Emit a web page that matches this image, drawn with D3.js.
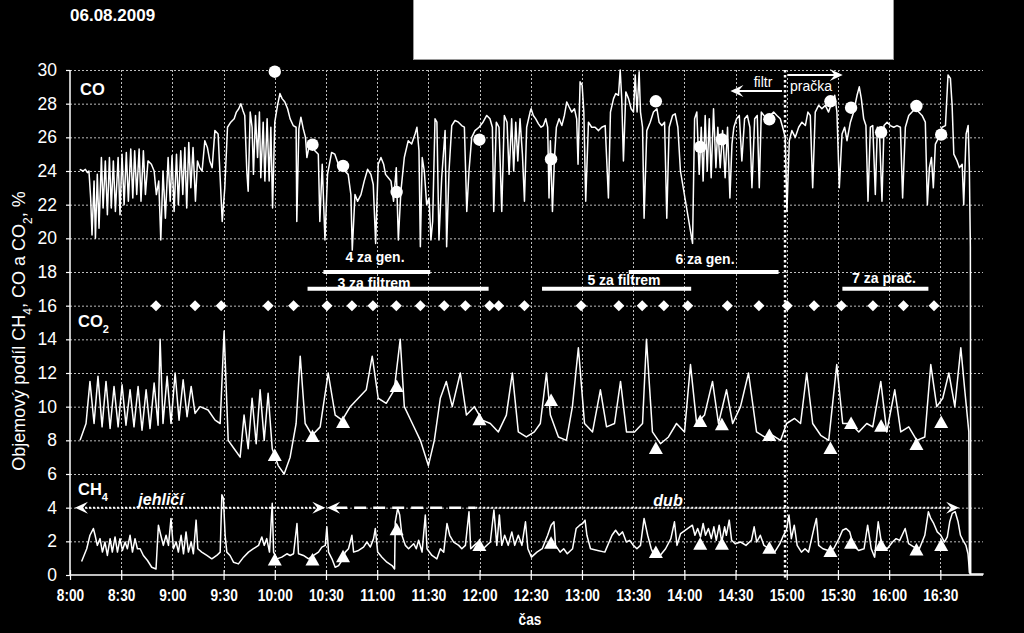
<!DOCTYPE html>
<html><head><meta charset="utf-8">
<script src="https://cdn.jsdelivr.net/npm/d3@7/dist/d3.min.js"></script>
<style>
body{margin:0;background:#000;}
svg{display:block;background:#000;}
text{fill:#fff;}
</style>
</head><body>
<svg id="chart" width="1024" height="633"></svg>
<script>
// ---------- data (time = minutes after 8:00, value = %) ----------
const dateLabel = "06.08.2009";
const timeTicks = ["8:00","8:30","9:00","9:30","10:00","10:30","11:00","11:30","12:00","12:30","13:00","13:30","14:00","14:30","15:00","15:30","16:00","16:30"];
const yTicks = [0,2,4,6,8,10,12,14,16,18,20,22,24,26,28,30];

const coSeries = [[5.7,24.1],[7.6,24.0],[9.0,24.1],[10.2,23.9],[11.1,24.0],[12.1,22.4],[12.9,20.2],[14.1,23.4],[14.9,20.0],[16.0,23.8],[17.0,20.6],[18.4,24.8],[19.4,21.8],[20.7,24.6],[21.9,21.4],[23.1,24.8],[24.2,21.8],[25.4,24.6],[26.6,21.6],[28.2,24.8],[29.3,21.4],[30.5,25.0],[31.7,22.0],[33.0,25.1],[34.2,22.2],[35.6,25.3],[36.8,22.4],[37.9,25.2],[39.1,22.6],[40.5,25.3],[41.6,22.2],[43.0,25.2],[44.2,22.6],[45.7,24.6],[47.7,24.4],[49.3,24.0],[50.6,22.6],[52.0,23.4],[53.2,19.9],[54.5,24.0],[55.9,21.2],[57.5,24.8],[58.7,22.2],[59.8,24.9],[61.0,21.6],[62.4,25.0],[63.5,22.0],[64.9,25.2],[66.1,22.6],[67.3,25.4],[68.4,21.8],[69.6,25.7],[70.8,23.0],[72.1,25.4],[73.5,22.2],[74.7,24.6],[76.0,24.2],[77.4,24.0],[79.0,25.8],[80.5,25.4],[81.9,24.6],[83.3,24.2],[84.9,26.4],[86.8,26.2],[87.8,24.0],[89.2,21.0],[90.7,23.0],[92.3,26.6],[94.2,26.9],[96.2,27.1],[97.5,27.5],[98.9,27.7],[100.1,28.0],[101.3,27.6],[102.4,27.3],[103.6,24.0],[104.4,22.8],[105.6,27.5],[106.7,26.6],[107.5,23.8],[108.7,27.3],[109.9,24.8],[111.0,27.5],[111.8,23.6],[113.2,26.9],[114.2,23.4],[115.5,27.1],[116.7,23.4],[117.7,26.6],[118.7,21.8],[120.0,26.9],[121.6,27.9],[123.0,28.6],[124.3,28.3],[125.9,28.1],[127.5,27.7],[129.0,27.1],[130.8,26.7],[132.5,26.6],[132.9,21.0],[134.1,26.5],[135.3,27.2],[136.7,26.5],[138.0,26.0],[138.8,24.8],[140.0,25.4],[141.5,25.6],[143.5,25.2],[145.5,25.0],[146.4,21.0],[147.8,24.4],[149.4,19.9],[150.9,23.8],[153.3,25.1],[155.2,25.0],[157.2,24.4],[159.1,24.2],[161.1,24.0],[163.0,23.8],[164.6,22.6],[165.4,19.3],[167.0,22.6],[168.5,22.2],[170.5,22.6],[172.4,23.4],[174.4,24.1],[176.3,23.8],[177.7,23.2],[179.1,19.7],[180.6,24.4],[182.2,24.8],[183.8,24.4],[184.9,23.8],[186.5,23.6],[188.1,23.4],[189.6,22.2],[191.2,24.2],[192.4,19.9],[193.9,22.8],[195.9,24.8],[198.2,25.8],[200.2,25.6],[202.2,26.2],[203.3,26.6],[204.5,25.2],[205.3,19.5],[206.4,24.8],[207.6,24.0],[209.0,22.0],[210.4,22.4],[211.5,19.9],[212.5,21.0],[213.9,27.1],[215.0,26.9],[216.2,19.9],[217.8,23.6],[219.8,26.4],[220.7,19.5],[222.1,24.0],[223.7,26.7],[225.6,27.0],[227.6,26.9],[229.5,26.7],[231.1,26.6],[232.5,21.6],[233.8,24.0],[235.4,26.0],[237.3,26.4],[239.7,26.6],[242.0,26.9],[244.2,27.3],[246.1,27.1],[247.5,26.6],[248.3,21.6],[249.8,26.9],[251.4,26.6],[253.0,21.6],[254.5,27.3],[256.1,26.9],[257.3,23.8],[258.8,27.1],[260.0,24.0],[261.2,26.9],[262.4,24.6],[263.7,27.1],[265.1,25.0],[266.3,22.2],[267.6,26.6],[269.6,27.5],[270.2,27.7],[271.5,27.3],[272.9,27.1],[274.5,26.8],[276.0,26.6],[277.4,26.7],[278.8,27.1],[279.9,26.6],[280.7,22.4],[281.5,25.8],[282.7,21.6],[283.9,24.8],[285.0,26.6],[286.6,27.1],[288.2,26.7],[289.7,27.3],[291.1,28.1],[292.5,27.8],[294.0,27.5],[295.6,27.7],[296.9,27.1],[297.7,24.4],[298.9,29.3],[300.1,29.1],[301.1,27.5],[302.2,22.2],[303.8,26.9],[305.7,26.6],[307.7,26.6],[309.7,26.4],[311.6,26.6],[313.6,26.7],[315.5,22.4],[316.7,27.5],[318.5,28.3],[319.8,28.6],[321.4,28.5],[322.4,30.0],[323.3,28.3],[324.3,24.6],[325.7,28.7],[327.3,28.3],[328.8,27.7],[330.2,27.5],[331.2,29.7],[332.3,27.5],[333.5,29.9],[334.3,27.5],[335.5,26.6],[336.4,21.2],[338.0,26.4],[340.0,26.9],[341.9,27.5],[343.9,27.7],[345.2,26.9],[346.8,26.7],[348.4,26.9],[349.7,21.2],[351.1,26.6],[353.1,27.3],[354.6,27.4],[356.2,26.6],[357.7,24.0],[364.8,19.7],[366.0,27.1],[367.3,27.5],[368.7,23.8],[369.9,26.6],[371.0,23.4],[372.2,27.3],[373.4,24.0],[374.6,27.1],[375.7,23.6],[377.1,27.7],[378.5,24.2],[379.6,26.6],[381.0,24.2],[382.4,26.4],[383.9,23.6],[385.3,26.6],[386.7,22.4],[387.9,25.6],[389.0,26.6],[390.6,27.1],[392.2,27.3],[393.7,24.6],[395.3,27.1],[396.9,27.3],[398.4,26.6],[399.6,23.0],[401.2,27.1],[402.7,27.3],[403.9,23.0],[405.1,27.5],[406.6,27.3],[408.4,27.1],[410.3,27.3],[412.3,27.5],[414.2,27.3],[416.2,27.1],[417.6,26.6],[419.1,26.0],[420.1,21.6],[421.5,25.8],[423.0,26.4],[425.0,26.0],[427.0,26.6],[428.9,26.9],[430.9,26.7],[432.4,27.5],[433.8,27.3],[435.2,23.0],[436.7,27.5],[438.7,27.9],[440.6,27.7],[442.6,27.9],[444.5,27.5],[446.5,28.1],[448.1,28.5],[449.4,27.5],[450.8,23.0],[452.4,26.2],[453.9,26.6],[455.3,25.8],[457.3,26.9],[459.2,27.5],[461.2,28.5],[462.5,29.0],[463.7,28.3],[465.1,27.1],[466.4,26.7],[467.6,22.2],[469.0,26.6],[470.4,26.7],[471.9,22.6],[473.1,26.6],[474.3,26.4],[475.8,22.2],[477.0,26.7],[478.8,26.9],[480.7,26.7],[482.7,26.6],[484.6,26.7],[486.6,26.6],[487.9,22.4],[489.5,26.6],[491.5,27.3],[493.4,27.5],[495.4,27.7],[497.3,27.5],[499.3,27.3],[501.2,26.9],[502.4,22.0],[503.6,24.2],[504.8,24.8],[505.9,23.0],[507.1,25.6],[509.1,26.0],[511.0,26.6],[513.0,26.7],[514.5,29.7],[515.9,29.5],[516.9,27.9],[517.9,25.0],[519.8,24.6],[521.2,24.2],[522.8,24.4],[523.7,22.0],[525.1,26.2],[526.3,26.7],[527.0,24.2],[527.6,19.5],[527.8,0.05]];

const co2Series = [[5.9,8.0],[9.4,9.0],[11.7,11.5],[14.1,9.0],[16.4,11.8],[18.8,8.8],[21.1,11.5],[23.5,8.7],[25.8,11.2],[28.2,8.8],[30.5,11.3],[32.8,8.9],[35.2,11.0],[37.5,8.8],[39.9,11.2],[42.2,8.6],[44.6,11.0],[46.9,8.7],[49.3,11.4],[51.6,8.9],[52.8,14.0],[54.5,9.0],[56.9,11.8],[59.2,9.0],[61.6,12.0],[63.9,9.2],[66.3,11.6],[68.6,9.4],[71.0,11.2],[73.3,9.6],[76.2,10.0],[80.9,9.8],[85.0,9.2],[88.0,9.0],[90.3,14.5],[92.7,8.0],[96.2,7.5],[99.7,7.0],[102.0,9.5],[104.4,7.5],[106.7,10.5],[109.1,7.8],[111.4,11.0],[113.8,8.0],[116.1,10.8],[118.5,7.5],[122.0,6.5],[125.5,6.0],[129.0,7.0],[132.5,9.0],[134.9,13.0],[137.8,9.0],[141.9,8.3],[146.6,8.8],[151.3,12.0],[155.4,9.5],[159.5,9.2],[164.2,10.0],[168.9,10.5],[173.6,11.0],[177.1,13.0],[180.6,10.5],[185.3,10.2],[190.0,11.0],[193.5,14.0],[195.9,10.0],[200.6,9.0],[205.3,8.0],[210.0,6.5],[213.5,8.0],[217.0,10.5],[220.5,11.5],[224.0,10.0],[228.7,12.0],[232.3,9.5],[236.9,10.0],[241.6,9.2],[246.3,9.0],[251.0,8.5],[255.7,9.5],[259.2,12.0],[262.7,8.5],[267.4,8.2],[272.1,8.5],[275.6,9.0],[279.2,12.0],[281.5,9.5],[286.2,8.2],[290.9,8.0],[294.4,10.0],[297.9,13.5],[301.5,9.0],[306.2,8.5],[310.8,11.0],[314.4,8.8],[319.1,9.0],[322.6,11.5],[326.1,8.5],[330.8,8.5],[335.5,9.0],[337.8,14.0],[341.3,8.5],[346.0,7.8],[350.7,8.2],[355.4,9.0],[360.1,8.5],[363.6,12.5],[367.2,9.0],[371.8,9.5],[376.5,11.5],[380.0,9.0],[384.7,11.0],[388.3,9.0],[392.9,10.0],[397.6,12.0],[402.3,8.5],[407.0,8.2],[411.7,8.3],[416.4,8.0],[419.9,9.0],[424.6,9.3],[428.1,9.0],[431.7,12.0],[435.2,9.0],[439.9,8.3],[444.6,8.0],[449.3,12.5],[452.8,9.0],[457.5,9.0],[462.2,8.5],[466.9,9.0],[470.4,8.8],[475.1,11.5],[478.6,8.5],[483.3,11.0],[486.8,8.5],[491.5,8.8],[496.2,8.0],[500.9,8.2],[504.4,12.5],[507.9,10.0],[511.4,10.5],[515.0,12.0],[518.5,10.0],[522.0,13.5],[524.3,11.0],[526.7,8.5],[527.1,0.1]];

const ch4Series = [[6.8,0.8],[9.8,1.56],[11.7,2.36],[13.7,2.76],[14.7,2.36],[16.0,1.76],[17.6,2.16],[19.0,1.36],[20.5,1.96],[21.9,1.16],[23.5,2.16],[24.8,1.36],[26.4,2.26],[27.8,1.36],[29.3,2.16],[30.7,1.46],[32.3,1.96],[33.6,1.56],[35.2,2.36],[36.6,1.36],[38.1,2.16],[39.5,1.56],[41.1,1.56],[43.0,1.16],[45.4,0.86],[47.9,0.46],[50.4,0.36],[51.8,2.96],[53.2,2.36],[54.7,1.76],[56.3,2.36],[57.7,1.76],[59.2,3.36],[60.6,1.56],[62.2,1.96],[63.5,1.36],[65.1,2.36],[66.5,1.26],[68.0,2.56],[69.4,1.36],[71.0,1.96],[72.3,1.26],[73.9,3.26],[74.9,1.56],[77.2,1.36],[80.2,1.16],[83.1,0.96],[86.0,1.16],[88.0,1.36],[89.0,4.76],[89.9,4.56],[90.9,2.36],[91.9,1.36],[93.8,1.16],[95.8,0.76],[98.7,0.66],[101.7,1.06],[104.6,1.36],[107.5,1.56],[110.5,1.76],[112.4,2.26],[113.8,1.76],[115.3,2.16],[116.9,1.36],[118.5,4.26],[119.3,1.36],[121.2,0.96],[124.1,1.06],[127.1,1.26],[129.0,1.16],[131.0,1.26],[133.0,3.06],[133.9,1.26],[136.8,1.16],[139.8,0.96],[142.7,1.16],[145.6,1.36],[147.6,1.66],[149.6,1.76],[150.5,2.86],[151.5,1.36],[153.5,0.96],[155.4,0.46],[157.4,0.56],[159.3,0.86],[161.3,1.36],[163.2,1.56],[165.2,2.36],[166.2,1.36],[169.1,1.46],[172.0,1.66],[174.0,1.96],[176.0,1.66],[177.9,2.16],[178.9,2.76],[180.3,1.36],[182.8,1.06],[185.7,0.76],[188.7,0.56],[190.2,0.36],[190.6,3.16],[192.0,3.96],[193.2,3.56],[194.5,2.36],[196.5,1.76],[198.4,1.56],[201.4,1.86],[202.9,1.56],[204.3,2.06],[206.3,1.36],[208.2,3.56],[209.2,1.56],[212.1,1.16],[215.0,0.96],[217.0,1.56],[219.0,1.36],[220.9,3.06],[222.5,2.36],[224.8,1.96],[227.8,1.76],[229.6,1.56],[231.7,1.76],[233.8,3.76],[234.8,1.56],[236.9,1.76],[239.0,1.96],[241.1,1.56],[243.2,1.66],[246.3,1.96],[248.4,3.86],[250.1,1.76],[251.6,3.56],[253.0,1.76],[254.7,2.36],[256.8,1.76],[258.9,2.56],[260.6,1.76],[262.7,2.36],[264.8,1.76],[266.9,3.16],[268.3,1.56],[270.4,1.06],[273.6,1.36],[276.7,1.56],[279.9,2.36],[281.9,2.96],[283.6,3.16],[284.5,1.76],[287.2,1.36],[289.3,1.56],[291.4,1.26],[294.5,1.56],[296.6,2.76],[298.7,2.96],[300.4,3.06],[301.8,3.26],[302.9,2.36],[305.0,1.56],[309.2,1.46],[313.4,1.36],[317.6,2.36],[319.7,2.66],[321.8,2.36],[323.8,2.56],[326.0,1.96],[328.0,2.06],[330.1,1.76],[332.2,1.56],[334.3,1.76],[336.4,3.36],[338.5,2.36],[340.6,1.56],[342.7,1.06],[345.8,1.16],[349.0,1.56],[352.1,2.16],[354.2,3.16],[355.7,1.76],[357.8,2.46],[364.7,2.96],[366.2,2.36],[367.8,2.76],[369.5,2.26],[371.0,3.06],[372.4,2.36],[374.1,2.76],[375.8,2.16],[377.3,2.86],[378.7,2.06],[380.4,2.96],[381.9,1.96],[383.6,2.86],[384.6,2.36],[386.3,3.26],[387.7,2.06],[389.8,1.86],[393.0,1.96],[396.1,1.76],[399.3,2.06],[400.9,2.86],[402.4,1.96],[404.5,2.36],[406.6,1.76],[409.7,1.56],[412.9,1.36],[416.0,1.86],[418.1,2.36],[419.8,2.66],[421.3,3.56],[422.7,2.16],[424.4,2.96],[426.1,1.76],[428.6,1.36],[430.7,1.56],[432.8,1.36],[435.9,2.76],[437.4,3.36],[438.7,1.76],[441.2,1.56],[444.3,1.46],[447.5,1.56],[450.6,2.16],[452.7,2.66],[454.8,2.76],[456.9,2.56],[459.0,1.76],[462.1,1.46],[465.3,1.56],[467.4,2.96],[469.5,1.56],[471.5,1.06],[473.6,3.16],[475.7,1.76],[478.9,1.56],[482.0,1.96],[484.1,2.16],[486.2,2.06],[489.4,2.76],[491.4,1.86],[494.6,1.66],[497.7,1.56],[500.9,2.36],[503.0,3.76],[504.4,3.36],[506.1,3.06],[508.2,2.56],[510.3,2.36],[512.4,1.96],[514.1,2.26],[515.5,3.16],[517.0,3.66],[518.7,3.76],[520.4,3.16],[521.8,2.36],[523.3,2.06],[525.0,1.76],[526.2,1.26],[527.1,0.16],[527.5,0.06],[535.4,0.06]];

// spot samples (circles = CO, triangles = CO2 / CH4)
const sampleTimes = [120.0,142.1,160.0,191.4,239.9,281.9,343.3,369.3,382.0,409.8,445.6,457.7,475.3,496.0,510.5];
const coSamples   = [29.9,25.56,24.3,22.75,25.86,24.7,28.14,25.43,25.88,27.07,28.14,27.76,26.3,27.86,26.16];
const co2Samples  = [7.07,8.2,9.03,11.17,9.2,10.34,7.49,9.09,8.9,8.26,7.49,8.97,8.8,7.72,9.03];
const ch4Samples  = [0.86,0.86,1.06,2.66,1.72,1.86,1.3,1.8,1.8,1.56,1.36,1.86,1.72,1.46,1.72];

// diamonds on the 16 % line
const diamondTimes = [50.4,73.3,88.6,116.1,131.0,150.6,165.2,177.5,191.2,205.3,219.3,231.7,245.9,251.2,266.3,299.5,321.6,335.3,348.0,362.0,385.2,403.7,420.3,436.0,452.0,470.5,488.4,506.3];
const diamondLevel = 16;

// sampling periods (label, start, end, level)
const periodLabels = ["4 za gen.","3 za filtrem","5 za filtrem","6 za gen.","7 za prač."];
const periodStart  = [148.5,139.2,276.6,327.4,452.6];
const periodEnd    = [211.1,245.3,364.0,415.2,503.0];
const periodLevel  = [18,17,17,18,17];

const switchTime = 419;  // filtr | pračka
const woodLabels = ["jehličí","dub"];
const woodStart  = [2.9,150.7];
const woodEnd    = [149.6,521];
const woodLevel  = 4;

// ---------- drawing ----------
const svg = d3.select("#chart");
const x = d3.scaleLinear().domain([0,535]).range([70,983]);
const y = d3.scaleLinear().domain([0,30]).range([575,70]);
const FONT = "'Liberation Sans', Arial, sans-serif";
const NARROW_W = {":":0.28,".":0.28," ":0.23};
const narrowLen = (s,fs) => [...s].reduce((a,c)=>a+(NARROW_W[c]||0.46),0)*fs;
const tickMinutes = timeTicks.map(s => { const [h,m] = s.split(":").map(Number); return h*60+m-480; });

// date & white box
svg.append("text").attr("x",70).attr("y",21).attr("font-family",FONT).attr("font-weight","bold")
  .attr("font-size",17).text(dateLabel);
svg.append("rect").attr("x",413.5).attr("y",-1).attr("width",480).attr("height",60.5)
  .attr("fill","#fff").attr("stroke","#9a9a9a").attr("stroke-width",1);

// grid
const grid = svg.append("g").attr("stroke","#bdbdbd").attr("stroke-width",1).attr("stroke-dasharray","2,2");
grid.selectAll(".h").data(yTicks.filter(d=>d>0)).join("line")
  .attr("x1",70).attr("x2",983).attr("y1",d=>y(d)+0.5).attr("y2",d=>y(d)+0.5);
grid.selectAll(".v").data(tickMinutes.filter(d=>d>0)).join("line")
  .attr("y1",70).attr("y2",575).attr("x1",d=>Math.round(x(d))+0.5).attr("x2",d=>Math.round(x(d))+0.5);

// axes
const yAxis = svg.append("g").attr("transform","translate(70,0)")
  .call(d3.axisLeft(y).tickValues(yTicks).tickSize(4).tickPadding(9));
yAxis.selectAll("text").attr("font-family",FONT).attr("font-size",17.5).attr("fill","#fff");
const xAxis = svg.append("g").attr("transform","translate(0,575)")
  .call(d3.axisBottom(x).tickValues(tickMinutes).tickFormat((d,i)=>timeTicks[i]).tickSize(5).tickPadding(9));
xAxis.selectAll(".tick line").attr("y1",-5).attr("y2",5);
xAxis.selectAll("text").attr("font-family",FONT).attr("font-weight","bold").attr("font-size",17)
  .attr("fill","#fff").attr("lengthAdjust","spacingAndGlyphs")
  .attr("textLength",(d,i)=>narrowLen(timeTicks[i],16.5));
svg.selectAll(".domain").attr("stroke","#fff").attr("stroke-width",1.5);
svg.selectAll(".tick line").attr("stroke","#fff").attr("stroke-width",1.2);
xAxis.select(".domain").attr("d","M70,0H983");
yAxis.select(".domain").attr("d","M0,70V575");

// axis titles
const yt = svg.append("text").attr("transform","translate(25,331) rotate(-90)")
  .attr("text-anchor","middle").attr("font-family",FONT).attr("font-size",18);
yt.append("tspan").text("Objemový podíl CH");
yt.append("tspan").attr("baseline-shift","sub").attr("font-size",12).text("4");
yt.append("tspan").text(", CO a CO");
yt.append("tspan").attr("baseline-shift","sub").attr("font-size",12).text("2");
yt.append("tspan").text(", %");
svg.append("text").attr("x",530).attr("y",625).attr("text-anchor","middle")
  .attr("font-family",FONT).attr("font-weight","bold").attr("font-size",17)
  .attr("lengthAdjust","spacingAndGlyphs").attr("textLength",narrowLen("čas",16.5)).text("čas");

// switch line
svg.append("line").attr("x1",x(switchTime)).attr("x2",x(switchTime)).attr("y1",70).attr("y2",579)
  .attr("stroke","#fff").attr("stroke-width",2.5).attr("stroke-dasharray","2.5,2.5");

// series
const line = d3.line().x(d=>x(d[0])).y(d=>y(d[1]));
[coSeries,co2Series,ch4Series].forEach(s=>{
  svg.append("path").datum(s).attr("d",line).attr("fill","none")
    .attr("stroke","#fff").attr("stroke-width",1.5).attr("stroke-linejoin","round");
});

// series labels
function chem(xp,yp,main,sub){
  const t = svg.append("text").attr("x",xp).attr("y",yp).attr("font-family",FONT)
    .attr("font-weight","bold").attr("font-size",16.5);
  t.append("tspan").text(main);
  if(sub) t.append("tspan").attr("baseline-shift","sub").attr("font-size",11).text(sub);
}
chem(80,95,"CO");
chem(78,327,"CO","2");
chem(78,495,"CH","4");

// diamonds
svg.selectAll(".dia").data(diamondTimes).join("path")
  .attr("transform",d=>`translate(${x(d)},${y(diamondLevel)})`)
  .attr("d","M0,-5.5L5.5,0L0,5.5L-5.5,0Z").attr("fill","#fff");

// period bars
periodLabels.forEach((lab,i)=>{
  svg.append("line").attr("x1",x(periodStart[i])).attr("x2",x(periodEnd[i]))
    .attr("y1",y(periodLevel[i])).attr("y2",y(periodLevel[i]))
    .attr("stroke","#fff").attr("stroke-width",4);
});
const periodText = [[375,262],[374,288],[624,285],[705,264],[884,283]];
periodLabels.forEach((lab,i)=>{
  svg.append("text").attr("x",periodText[i][0]).attr("y",periodText[i][1]).attr("text-anchor","middle")
    .attr("font-family",FONT).attr("font-weight","bold").attr("font-size",14).text(lab);
});

// markers
svg.selectAll(".circ").data(sampleTimes).join("circle")
  .attr("cx",d=>x(d)).attr("cy",(d,i)=>y(coSamples[i])).attr("r",6.2).attr("fill","#fff");
const tri = "M0,-7.5L7,5L-7,5Z";
svg.selectAll(".t2").data(sampleTimes).join("path")
  .attr("transform",(d,i)=>`translate(${x(d)},${y(co2Samples[i])})`).attr("d",tri).attr("fill","#fff");
svg.selectAll(".t4").data(sampleTimes).join("path")
  .attr("transform",(d,i)=>`translate(${x(d)},${y(ch4Samples[i])})`).attr("d",tri).attr("fill","#fff");

// arrowheads
function head(px,py,dir){
  svg.append("path").attr("transform",`translate(${px},${py}) scale(${dir},1)`)
    .attr("d","M0,0L-13,-6L-8,0L-13,6Z").attr("fill","#fff");
}
const yF = 91, yP = 75;
svg.append("line").attr("x1",x(switchTime)-3).attr("x2",x(387)+6).attr("y1",yF).attr("y2",yF).attr("stroke","#fff").attr("stroke-width",2);
head(x(387),yF,-1);
svg.append("line").attr("x1",x(switchTime)+3).attr("x2",x(452.8)-6).attr("y1",yP).attr("y2",yP).attr("stroke","#fff").attr("stroke-width",2);
head(x(452.8),yP,1);
svg.append("text").attr("x",763).attr("y",87).attr("text-anchor","middle").attr("font-family",FONT).attr("font-size",14).text("filtr");
svg.append("text").attr("x",811).attr("y",91).attr("text-anchor","middle").attr("font-family",FONT).attr("font-size",14).text("pračka");

// wood arrows
const yw = y(woodLevel);
svg.append("line").attr("x1",x(woodStart[0])+6).attr("x2",x(woodEnd[0])-6).attr("y1",yw).attr("y2",yw)
  .attr("stroke","#fff").attr("stroke-width",2).attr("stroke-dasharray","2,2");
head(x(woodStart[0]),yw,-1); head(x(woodEnd[0]),yw,1);
svg.append("line").attr("x1",x(woodStart[1])+8).attr("x2",x(237.5)).attr("y1",yw).attr("y2",yw)
  .attr("stroke","#fff").attr("stroke-width",2.5).attr("stroke-dasharray","12,7");
svg.append("line").attr("x1",x(237.5)).attr("x2",x(woodEnd[1])-6).attr("y1",yw).attr("y2",yw)
  .attr("stroke","#fff").attr("stroke-width",2).attr("stroke-dasharray","2,2");
head(x(woodStart[1]),yw,-1); head(x(woodEnd[1]),yw,1);
svg.append("text").attr("x",161).attr("y",505).attr("text-anchor","middle").attr("font-family",FONT)
  .attr("font-weight","bold").attr("font-style","italic").attr("font-size",16).text(woodLabels[0]);
svg.append("text").attr("x",668).attr("y",506).attr("text-anchor","middle").attr("font-family",FONT)
  .attr("font-weight","bold").attr("font-style","italic").attr("font-size",16).text(woodLabels[1]);
</script>
</body></html>
